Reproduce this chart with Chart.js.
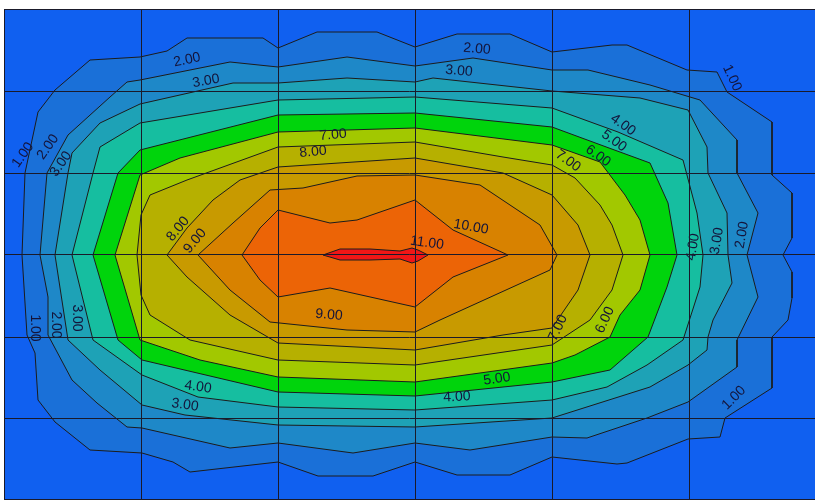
<!DOCTYPE html>
<html>
<head>
<meta charset="utf-8">
<script src="https://cdn.jsdelivr.net/npm/chart.js@4.4.1/dist/chart.umd.min.js"></script>
<style>
  html, body { margin: 0; padding: 0; background: #ffffff; }
  #wrap { width: 815px; height: 501px; }
</style>
</head>
<body>
<div id="wrap"><canvas id="grafico"></canvas></div>
<script>
// ---- dados (coordenadas do mapa) ----
const niveis = [1, 2, 3, 4, 5, 6, 7, 8, 9, 10, 11];

const iso1 = [[1.8,24.6],[2.1,16.4],[3.4,10.3],[5.1,8.1],[8.6,5.1],[13.6,4.8],[16.3,4.2],[18.3,2.9],[25.9,2.9],[27.4,3.9],[31.3,2.3],[37.3,2.3],[41.1,3.8],[45.3,2.5],[50.6,2.5],[54.8,4.3],[60.8,3.6],[62.3,3.6],[68.3,6.1],[71.3,6.3],[72.3,8.3],[76.8,11.3],[76.8,16.6],[78.8,18.4],[78.8,22.9],[77.9,24.6],[78.8,26.3],[78.8,28.9],[78.4,31.1],[76.8,32.8],[76.8,37.9],[72.1,40.9],[71.6,42.8],[68.4,43.0],[62.3,45.4],[61.3,45.5],[54.8,44.8],[50.6,46.6],[45.3,46.6],[41.1,45.3],[36.9,46.7],[31.4,46.7],[27.4,45.3],[18.6,46.3],[16.9,45.3],[13.8,44.4],[8.6,44.1],[5.1,41.3],[3.4,39.1],[3.1,34.4],[2.3,32.6]];
const iso2 = [[3.6,24.6],[4.3,16.4],[6.4,12.6],[10.6,8.8],[12.3,7.3],[13.6,7.1],[22.6,5.3],[27.4,5.8],[34.3,4.8],[41.1,5.7],[46.9,4.9],[54.8,6.1],[58.4,6.1],[64.6,7.6],[69.6,9.1],[73.3,13.1],[73.3,16.4],[75.4,20.4],[74.3,24.6],[75.4,28.8],[73.3,33.1],[73.3,35.8],[68.4,39.3],[64.3,40.9],[58.3,42.9],[54.8,42.8],[46.6,44.1],[41.1,43.4],[34.9,44.4],[27.4,43.4],[22.6,43.9],[13.8,41.9],[12.3,41.8],[9.3,39.4],[6.8,37.1],[4.4,32.6],[4.4,28.8]];
const iso3 = [[5.1,24.6],[6.4,16.4],[6.8,14.4],[9.6,11.4],[13.6,9.5],[22.9,7.4],[27.4,7.4],[34.3,6.9],[41.1,7.3],[42.9,6.9],[54.8,8.2],[63.6,8.9],[68.4,10.1],[70.3,13.8],[70.4,16.4],[72.3,20.4],[72.4,24.6],[72.8,27.4],[70.9,31.1],[70.4,32.8],[70.3,34.1],[68.4,35.6],[64.6,37.8],[54.8,40.9],[41.1,41.8],[27.4,41.6],[18.1,40.6],[13.8,39.6],[9.6,36.1],[6.4,33.1]];
const iso4 = [[6.8,24.6],[8.9,16.4],[9.6,13.8],[13.6,11.4],[27.4,9.1],[41.1,8.8],[54.8,9.9],[61.4,12.3],[67.9,15.1],[69.3,20.4],[69.9,24.6],[69.6,27.8],[67.9,33.1],[64.3,35.6],[60.3,37.8],[54.8,39.1],[41.1,40.1],[27.4,39.8],[19.4,38.8],[13.8,36.6],[8.9,33.1]];
const iso5 = [[8.9,24.6],[11.4,16.4],[13.6,14.1],[27.4,10.6],[41.1,10.4],[54.8,11.8],[60.5,13.9],[64.6,15.4],[66.4,19.4],[67.3,24.6],[66.3,27.8],[64.4,32.8],[60.6,36.1],[54.8,37.3],[41.1,38.7],[27.4,38.3],[13.8,35.1],[11.4,33.1]];
const iso6 = [[11.1,24.6],[13.6,16.6],[17.6,14.9],[27.4,12.3],[41.1,11.9],[54.8,13.6],[59.6,15.3],[62.1,18.6],[63.6,21.1],[64.6,24.6],[63.6,28.1],[61.6,30.6],[60.6,32.8],[57.1,34.6],[54.8,35.4],[41.1,37.3],[27.4,36.8],[19.6,35.1],[13.6,33.1]];
const iso7 = [[13.3,24.6],[13.7,20.6],[14.6,18.6],[18.3,17.1],[27.4,13.8],[41.1,13.3],[49.9,14.8],[54.8,15.6],[57.1,16.9],[59.6,19.6],[60.8,21.6],[61.9,24.6],[60.8,28.1],[58.6,31.1],[54.8,33.6],[41.1,35.6],[27.4,35.1],[18.6,33.1],[14.6,30.6],[13.7,28.6]];
const iso8 = [[16.3,24.6],[18.3,21.9],[20.9,19.1],[23.6,17.1],[27.4,15.8],[41.1,14.9],[49.9,16.4],[54.8,18.6],[57.4,21.6],[58.6,24.6],[57.4,28.1],[54.8,31.9],[49.9,32.6],[41.1,34.1],[27.4,33.4],[22.6,30.6],[18.3,26.8]];
const iso9 = [[19.4,24.6],[22.9,21.4],[26.6,18.1],[29.9,17.9],[35.3,16.7],[41.1,16.6],[47.6,17.6],[53.6,21.6],[55.3,24.6],[54.6,26.1],[43.6,31.1],[41.1,32.3],[34.3,32.1],[26.6,31.3],[22.6,28.1]];
const iso10 = [[23.8,24.6],[25.6,21.9],[27.4,20.1],[32.6,21.4],[35.3,21.1],[41.1,19.1],[44.9,22.1],[50.4,24.6],[44.9,26.8],[41.1,29.8],[32.6,27.9],[27.4,28.8],[25.6,27.1]];
const iso11 = [[31.9,24.6],[33.6,24.0],[36.6,24.0],[39.6,24.2],[40.8,23.9],[41.4,24.1],[42.4,24.6],[41.4,25.2],[40.8,25.4],[39.6,25.0],[36.6,25.1],[33.6,25.1]];

const isolinhas = [iso1, iso2, iso3, iso4, iso5, iso6, iso7, iso8, iso9, iso10, iso11];

// linhas da grade
const gradeX = [13.7, 27.4, 41.1, 54.8, 68.5];
const gradeY = [8.2, 16.4, 24.6, 32.8, 41.0];

// rótulos: [nível, x, y, ângulo]
const rotulos = [
  [1, 1.9, 14.6, -55], [2, 4.4, 13.8, -55], [3, 5.7, 15.5, -55],
  [2, 18.3, 5.1, -12], [3, 20.2, 7.2, -10],
  [2, 47.3, 4.0, 5], [3, 45.5, 6.2, 5],
  [1, 72.8, 6.9, 65],
  [4, 61.9, 11.6, 35], [5, 61.0, 13.2, 35], [6, 59.4, 14.7, 35], [7, 56.4, 15.2, 35],
  [7, 32.9, 12.6, -5], [8, 30.9, 14.3, -5],
  [8, 17.4, 22.0, -50], [9, 19.1, 23.2, -50],
  [10, 46.7, 21.8, 10], [11, 42.3, 23.4, 8], [9, 32.5, 30.6, 5],
  [4, 68.9, 23.8, -80], [3, 71.3, 23.2, -80], [2, 73.8, 22.6, -80],
  [1, 3.1, 31.9, 90], [2, 5.2, 31.6, 90], [3, 7.3, 30.9, 90],
  [4, 19.4, 37.8, 8], [3, 18.1, 39.6, 8],
  [5, 49.3, 37.0, -8], [4, 45.3, 38.8, -3],
  [7, 55.4, 31.9, -65], [6, 60.1, 31.1, -65],
  [1, 73.0, 38.9, -45],
];

// ---- cores das faixas ----
const COR_FUNDO = '#1060f0';
const CORES = [
  '#1a70d8', '#1e88c8', '#1ea2b6', '#16bea0', '#00d40c',
  '#a2c800', '#b6b000', '#c89a00', '#d88200', '#ec6406', '#f01616',
];

// ---- plugins ----
const preenchePoligono = {
  id: 'preenchePoligono',
  beforeDraw(chart) {
    const a = chart.chartArea, ctx = chart.ctx;
    ctx.save();
    ctx.fillStyle = COR_FUNDO;
    ctx.fillRect(a.left, a.top, a.right - a.left, a.bottom - a.top);
    ctx.restore();
  },
  beforeDatasetDraw(chart, args) {
    const pts = args.meta.data;
    const ctx = chart.ctx;
    ctx.save();
    ctx.beginPath();
    pts.forEach((p, i) => i ? ctx.lineTo(p.x, p.y) : ctx.moveTo(p.x, p.y));
    ctx.closePath();
    ctx.fillStyle = chart.data.datasets[args.index].backgroundColor;
    ctx.fill();
    ctx.restore();
  },
  afterDatasetsDraw(chart) {
    const ctx = chart.ctx, sx = chart.scales.x, sy = chart.scales.y;
    ctx.save();
    ctx.font = '14px "Liberation Sans", Arial, sans-serif';
    ctx.fillStyle = '#14143a';
    ctx.textAlign = 'center';
    ctx.textBaseline = 'middle';
    rotulos.forEach(([v, x, y, ang]) => {
      ctx.save();
      ctx.translate(sx.getPixelForValue(x), sy.getPixelForValue(y));
      ctx.rotate(ang * Math.PI / 180);
      ctx.fillText(v.toFixed(2), 0, 0);
      ctx.restore();
    });
    ctx.restore();
  },
  afterDraw(chart) {
    const a = chart.chartArea, ctx = chart.ctx;
    ctx.save();
    ctx.strokeStyle = '#1a1a2a';
    ctx.lineWidth = 1;
    ctx.strokeRect(a.left + 0.5, a.top + 0.5, a.right - a.left, a.bottom - a.top - 1);
    ctx.restore();
  }
};

const datasets = isolinhas.map((iso, i) => ({
  label: niveis[i].toFixed(2),
  data: iso.concat([iso[0]]).map(([x, y]) => ({ x, y })),
  showLine: true,
  fill: false,
  tension: 0,
  borderColor: '#1c1c1c',
  borderWidth: 1,
  backgroundColor: CORES[i],
  pointRadius: 0,
  pointHoverRadius: 0,
  order: isolinhas.length - i,
}));

const eixo = (min, max, grade, inverso) => ({
  type: 'linear', min, max, reverse: inverso,
  afterBuildTicks: s => { s.ticks = grade.map(v => ({ value: v })); },
  ticks: { display: false },
  grid: { color: '#1a1a2a', lineWidth: 1, drawTicks: false, z: 1 },
  border: { display: false },
});

new Chart(document.getElementById('grafico'), {
  type: 'scatter',
  data: { datasets },
  options: {
    responsive: true,
    maintainAspectRatio: false,
    animation: false,
    layout: { padding: { left: 4, top: 9, right: 0, bottom: 1 } },
    plugins: { legend: { display: false }, tooltip: { enabled: false } },
    scales: {
      x: eixo(0, 81.1, gradeX, false),
      y: eixo(0, 49.1, gradeY, true),
    }
  },
  plugins: [preenchePoligono]
});
</script>
</body>
</html>
